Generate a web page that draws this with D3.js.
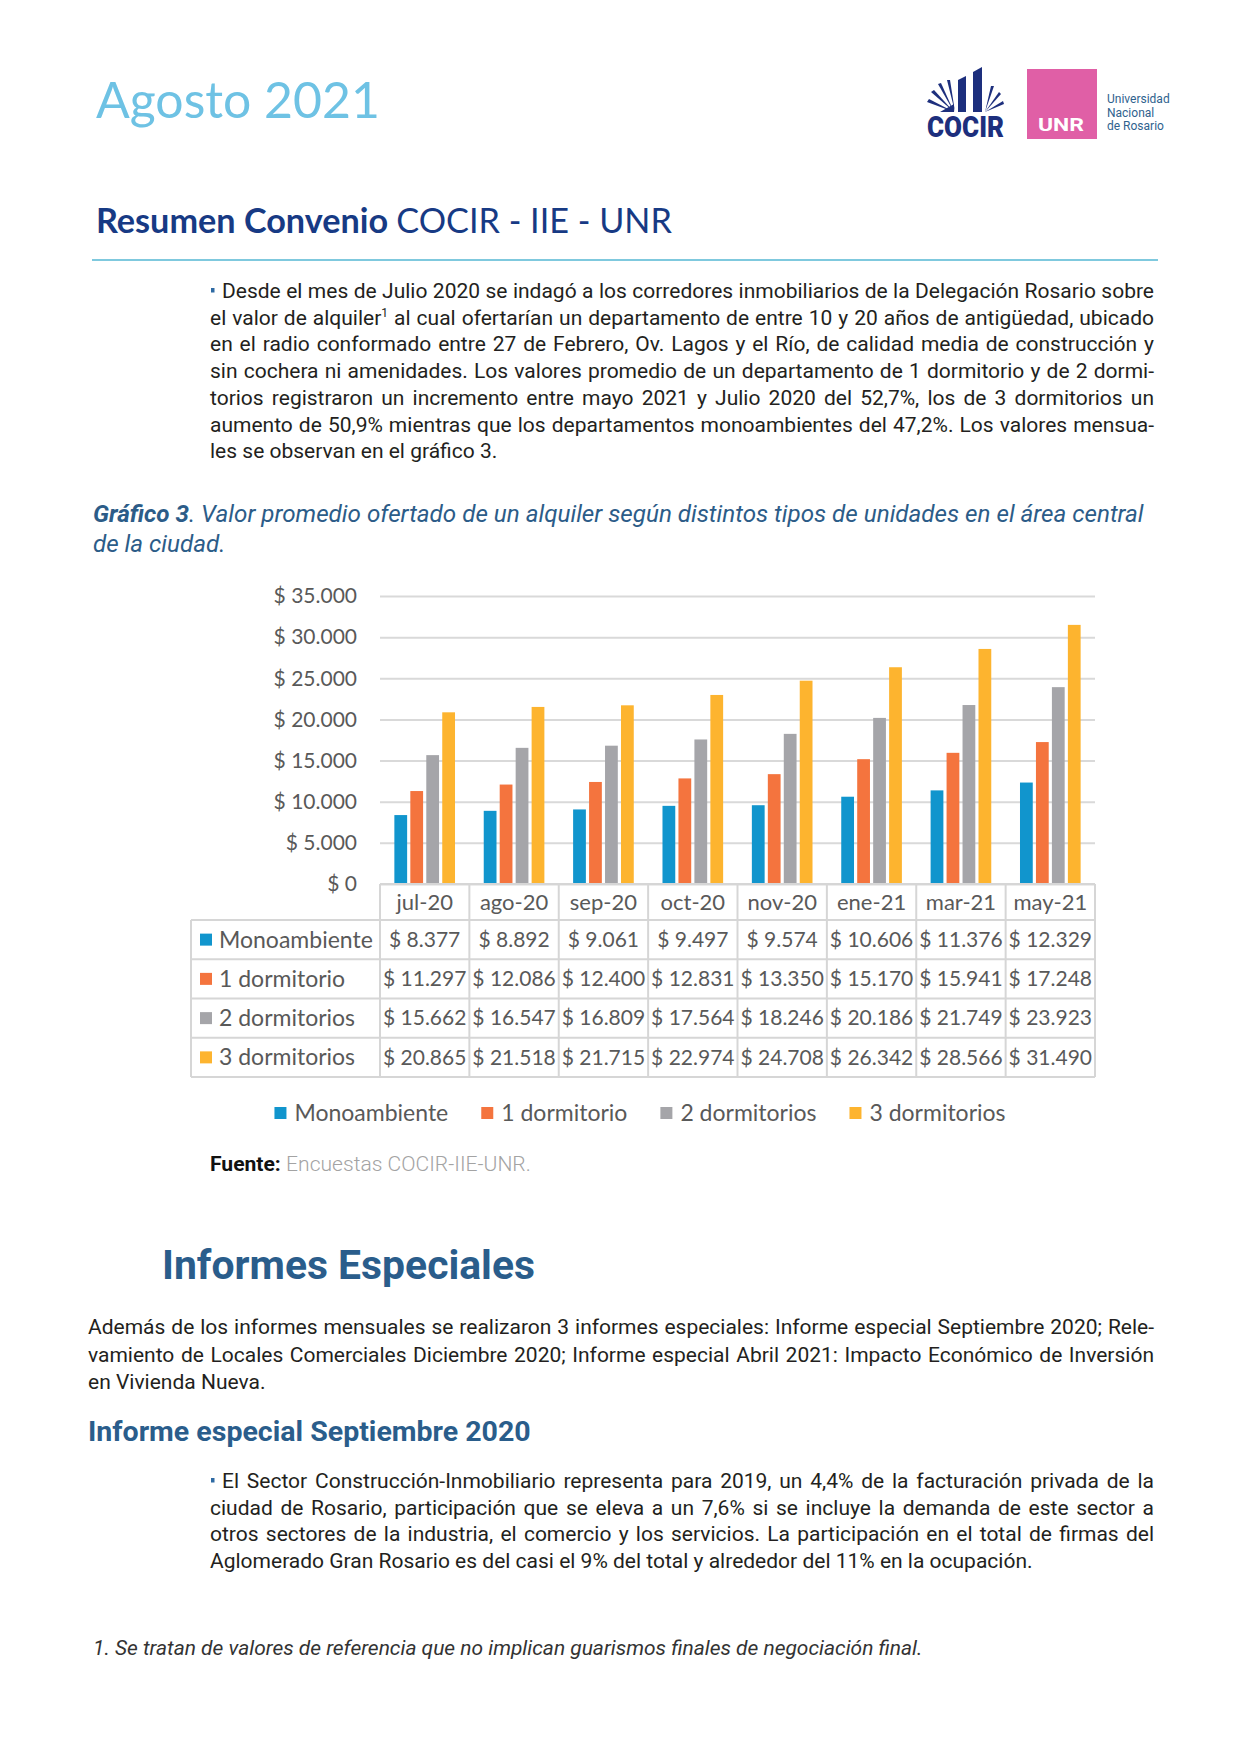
<!DOCTYPE html>
<html>
<head>
<meta charset="utf-8">
<script src="https://cdn.jsdelivr.net/npm/d3@7"></script>
<style>
  html, body { margin: 0; padding: 0; background: #fff; }
  svg { display: block; }
</style>
</head>
<body>
<svg id="page" width="1241" height="1754"></svg>
<script>
// chart data
const categories = ['jul-20', 'ago-20', 'sep-20', 'oct-20', 'nov-20', 'ene-21', 'mar-21', 'may-21'];
const seriesNames = ['Monoambiente', '1 dormitorio', '2 dormitorios', '3 dormitorios'];
const monoambiente = [8377, 8892, 9061, 9497, 9574, 10606, 11376, 12329];
const unDormitorio = [11297, 12086, 12400, 12831, 13350, 15170, 15941, 17248];
const dosDormitorios = [15662, 16547, 16809, 17564, 18246, 20186, 21749, 23923];
const tresDormitorios = [20865, 21518, 21715, 22974, 24708, 26342, 28566, 31490];
const yTicks = [0, 5000, 10000, 15000, 20000, 25000, 30000, 35000];

const seriesValues = [monoambiente, unDormitorio, dosDormitorios, tresDormitorios];
const colors = ['#1195cd', '#f4743e', '#a5a5a9', '#fdb42f'];

// page texts
const para1 = [
  'Desde el mes de Julio 2020 se indagó a los corredores inmobiliarios de la Delegación Rosario sobre',
  'el valor de alquiler|1| al cual ofertarían un departamento de entre 10 y 20 años de antigüedad, ubicado',
  'en el radio conformado entre 27 de Febrero, Ov. Lagos y el Río, de calidad media de construcción y',
  'sin cochera ni amenidades. Los valores promedio de un departamento de 1 dormitorio y de 2 dormi-',
  'torios registraron un incremento entre mayo 2021 y Julio 2020 del 52,7%, los de 3 dormitorios un',
  'aumento de 50,9% mientras que los departamentos monoambientes del 47,2%. Los valores mensua-',
  'les se observan en el gráfico 3.'
];
const para2 = [
  'Además de los informes mensuales se realizaron 3 informes especiales: Informe especial Septiembre 2020; Rele-',
  'vamiento de Locales Comerciales Diciembre 2020; Informe especial Abril 2021: Impacto Económico de Inversión',
  'en Vivienda Nueva.'
];
const para3 = [
  'El Sector Construcción-Inmobiliario representa para 2019, un 4,4% de la facturación privada de la',
  'ciudad de Rosario, participación que se eleva a un 7,6% si se incluye la demanda de este sector a',
  'otros sectores de la industria, el comercio y los servicios. La participación en el total de firmas del',
  'Aglomerado Gran Rosario es del casi el 9% del total y alrededor del 11% en la ocupación.'
];

const svg = d3.select('#page');
const body = 'Roboto, "Noto Sans", sans-serif';
const calib = 'Lato, "Open Sans", sans-serif';

// justified lines: every line but the last is stretched to the width
function writeLines(lines, o) {
  const g = svg.append('g')
    .attr('font-family', o.font || body)
    .attr('font-size', o.size)
    .attr('font-style', o.style || 'normal')
    .attr('fill', o.color || '#231f20');
  lines.forEach((line, i) => {
    const t = g.append('text').attr('x', o.x).attr('y', o.y + i * o.lh);
    const parts = line.split('|');
    parts.forEach((p, k) => {
      if (k % 2 === 1) {
        t.append('tspan').attr('dy', -8).attr('font-size', 12).text(p);
      } else {
        const ts = t.append('tspan').text(p);
        if (k > 0) ts.attr('dy', 8);
      }
    });
    if (i < lines.length - 1 || o.justifyAll) {
      const natural = t.node().getComputedTextLength();
      const spaces = (line.match(/ /g) || []).length;
      if (spaces > 0) t.attr('word-spacing', (o.width - natural) / spaces);
    }
  });
  return g;
}

// scale a text's font size so it spans the given width
function fitWidth(t, width) {
  const size = +t.attr('font-size');
  const w = t.node().getComputedTextLength();
  t.attr('font-size', size * width / w);
  return t;
}

function bullet(x, y) {
  svg.append('rect').attr('x', x).attr('y', y).attr('width', 3.5).attr('height', 4.5).attr('fill', '#2e6aa3');
}

// ---------- header ----------
fitWidth(svg.append('text')
  .attr('x', 96).attr('y', 118)
  .attr('font-family', calib).attr('font-size', 50)
  .attr('fill', '#6ec2e4')
  .text('Agosto 2021'), 284);

// COCIR logo
const navy = '#1d2f7d';
const logo = svg.append('g').attr('fill', navy);
logo.append('path').attr('d', 'M958,80 L966,76 L966,112 L958,112 Z');
logo.append('path').attr('d', 'M973,72 L982,67 L982,112 L973,112 Z');
logo.append('path').attr('d', 'M954,112 L927,102 L929,99 Z');
logo.append('path').attr('d', 'M954,112 L931,92 L934,90 Z');
logo.append('path').attr('d', 'M954,112 L938,84 L941,83 Z');
logo.append('path').attr('d', 'M955,112 L947,80 L950,80 Z');
logo.append('path').attr('d', 'M940,112 L954,104 L954,112 Z');
logo.append('path').attr('d', 'M985,112 L1004,104 L1003,101 Z');
logo.append('path').attr('d', 'M985,112 L1001,94 L999,92 Z');
logo.append('path').attr('d', 'M985,112 L994,86 L991,86 Z');
logo.append('text')
  .attr('x', 927).attr('y', 137)
  .attr('font-family', 'Roboto, sans-serif').attr('font-weight', 900)
  .attr('font-size', 29).attr('textLength', 77).attr('lengthAdjust', 'spacingAndGlyphs')
  .text('COCIR');

svg.append('rect').attr('x', 1027).attr('y', 69).attr('width', 70).attr('height', 70).attr('fill', '#e05fa6');
svg.append('text')
  .attr('x', 1038).attr('y', 131)
  .attr('font-family', 'Roboto, sans-serif').attr('font-weight', 700)
  .attr('font-size', 19).attr('fill', '#fff')
  .attr('textLength', 46).attr('lengthAdjust', 'spacingAndGlyphs')
  .text('UNR');
['Universidad', 'Nacional', 'de Rosario'].forEach((s, i) => {
  svg.append('text')
    .attr('x', 1107).attr('y', 103 + i * 13.5)
    .attr('font-family', 'Roboto, sans-serif').attr('font-size', 12)
    .attr('fill', '#2f628e')
    .text(s);
});

// section heading
const h1 = svg.append('text')
  .attr('x', 96).attr('y', 233)
  .attr('font-family', calib).attr('font-size', 34).attr('fill', '#173a84');
h1.append('tspan').attr('font-weight', 700).text('Resumen Convenio ');
h1.append('tspan').text('COCIR - IIE - UNR');
fitWidth(h1, 576);

svg.append('line')
  .attr('x1', 92).attr('x2', 1158).attr('y1', 260).attr('y2', 260)
  .attr('stroke', '#7fc9de').attr('stroke-width', 2);

bullet(211, 288);
writeLines(para1.slice(0, 1), { x: 222, y: 298, lh: 26.7, width: 1154 - 222, size: 21, justifyAll: true });
writeLines(para1.slice(1), { x: 210, y: 298 + 26.7, lh: 26.7, width: 1154 - 210, size: 21 });

// ---------- chart title ----------
const title = svg.append('g')
  .attr('font-family', body)
  .attr('font-style', 'italic').attr('fill', '#2c5c88');
const t1 = title.append('text').attr('x', 93).attr('y', 522).attr('font-size', 22);
t1.append('tspan').attr('font-weight', 700).text('Gráfico 3');
t1.append('tspan').text('. Valor promedio ofertado de un alquiler según distintos tipos de unidades en el área central');
fitWidth(t1, 1144 - 93);
title.append('text').attr('x', 93).attr('y', 552).attr('font-size', t1.attr('font-size')).text('de la ciudad.');

// ---------- chart ----------
const plotLeft = 380, plotRight = 1095, plotTop = 596, plotBottom = 884;
const x = d3.scaleBand().domain(categories).range([plotLeft, plotRight]);
const xs = d3.scaleBand().domain(seriesNames).range([0, x.bandwidth()])
  .paddingInner(0.2).paddingOuter(0.9);
const y = d3.scaleLinear().domain([0, 35000]).range([plotBottom, plotTop]);
const fmt = v => '$ ' + d3.format(',')(v).replace(/,/g, '.');

const chart = svg.append('g');
chart.append('g')
  .attr('transform', `translate(${plotLeft},0)`)
  .call(d3.axisLeft(y).tickValues(yTicks).tickSize(-(plotRight - plotLeft)).tickFormat(''))
  .call(g => g.select('.domain').remove())
  .call(g => g.selectAll('.tick line').attr('stroke', '#d9d9d9').attr('stroke-width', 2));

chart.append('g')
  .attr('transform', `translate(${plotLeft - 23},0)`)
  .call(d3.axisLeft(y).tickValues(yTicks).tickSize(0).tickPadding(0).tickFormat(fmt))
  .call(g => g.select('.domain').remove())
  .call(g => g.selectAll('text')
    .attr('font-family', calib).attr('font-size', 21).attr('fill', '#595959'));

const rows = categories.map((c, i) => ({ c, vals: seriesValues.map(s => s[i]) }));
chart.append('g').selectAll('g')
  .data(rows).join('g')
  .attr('transform', d => `translate(${x(d.c)},0)`)
  .selectAll('rect')
  .data(d => d.vals.map((v, k) => ({ k, v })))
  .join('rect')
  .attr('x', d => xs(seriesNames[d.k]))
  .attr('width', xs.bandwidth())
  .attr('y', d => y(d.v))
  .attr('height', d => plotBottom - y(d.v))
  .attr('fill', d => colors[d.k]);

// data table
const tableLeft = 191, headBottom = 920, tableBottom = 1077;
const ry = d3.scaleBand().domain(seriesNames).range([headBottom, tableBottom]);
const border = '#d6d6d6';
const tbl = chart.append('g').attr('font-family', calib).attr('font-size', 21).attr('fill', '#595959');

tbl.append('line').attr('x1', plotLeft).attr('x2', plotRight).attr('y1', plotBottom).attr('y2', plotBottom)
  .attr('stroke', border).attr('stroke-width', 2);
[headBottom, ...seriesNames.map(s => ry(s) + ry.bandwidth())].forEach(yy => {
  tbl.append('line').attr('x1', tableLeft).attr('x2', plotRight).attr('y1', yy).attr('y2', yy)
    .attr('stroke', border).attr('stroke-width', 2);
});
tbl.append('line').attr('x1', tableLeft).attr('x2', tableLeft).attr('y1', headBottom).attr('y2', tableBottom)
  .attr('stroke', border).attr('stroke-width', 2);
[...categories.map(c => x(c)), plotRight].forEach(xx => {
  tbl.append('line').attr('x1', xx).attr('x2', xx).attr('y1', plotBottom).attr('y2', tableBottom)
    .attr('stroke', border).attr('stroke-width', 2);
});

tbl.selectAll('.head').data(categories).join('text')
  .attr('class', 'head')
  .attr('x', d => x(d) + x.bandwidth() / 2)
  .attr('y', (plotBottom + headBottom) / 2)
  .attr('dy', '0.35em').attr('text-anchor', 'middle')
  .attr('font-size', 22)
  .text(d => d);

seriesNames.forEach((s, k) => {
  const cy = ry(s) + ry.bandwidth() / 2;
  tbl.append('rect').attr('x', 200).attr('y', cy - 6).attr('width', 12).attr('height', 12).attr('fill', colors[k]);
  tbl.append('text').attr('x', 219).attr('y', cy).attr('dy', '0.35em').attr('font-size', 23).text(s);
  tbl.selectAll('.v' + k).data(seriesValues[k]).join('text')
    .attr('class', 'v' + k)
    .attr('x', (d, i) => x(categories[i]) + x.bandwidth() / 2)
    .attr('y', cy).attr('dy', '0.35em').attr('text-anchor', 'middle')
    .text(d => fmt(d));
});

// legend
const legend = chart.append('g').attr('font-family', calib).attr('font-size', 23).attr('fill', '#595959');
const legendY = 1113;
const items = seriesNames.map((s, k) => {
  const g = legend.append('g');
  g.append('rect').attr('x', 0).attr('y', legendY - 6).attr('width', 12).attr('height', 12).attr('fill', colors[k]);
  const t = g.append('text').attr('x', 20).attr('y', legendY).attr('dy', '0.35em').text(s);
  return { g, w: 20 + t.node().getComputedTextLength() };
});
const gap = 33;
const total = d3.sum(items, d => d.w) + gap * (items.length - 1);
let lx = 640 - total / 2;
items.forEach(it => { it.g.attr('transform', `translate(${lx},0)`); lx += it.w + gap; });

// source
const src = svg.append('text').attr('x', 210).attr('y', 1171)
  .attr('font-family', body).attr('font-size', 20);
src.append('tspan').attr('font-weight', 700).attr('fill', '#111').text('Fuente: ');
src.append('tspan').attr('font-weight', 300).attr('fill', '#a3a3a3').text('Encuestas COCIR-IIE-UNR.');
fitWidth(src, 321);

// ---------- Informes Especiales ----------
fitWidth(svg.append('text').attr('x', 162).attr('y', 1279)
  .attr('font-family', body).attr('font-weight', 700).attr('font-size', 38)
  .attr('fill', '#2a5d8b').text('Informes Especiales'), 373);

writeLines(para2, { x: 88, y: 1334, lh: 27.5, width: 1154 - 88, size: 21 });

fitWidth(svg.append('text').attr('x', 88).attr('y', 1441)
  .attr('font-family', body).attr('font-weight', 700).attr('font-size', 26)
  .attr('fill', '#2a5d8b').text('Informe especial Septiembre 2020'), 443);

bullet(211, 1478);
writeLines(para3.slice(0, 1), { x: 222, y: 1488, lh: 26.6, width: 1154 - 222, size: 21, justifyAll: true });
writeLines(para3.slice(1), { x: 210, y: 1488 + 26.6, lh: 26.6, width: 1154 - 210, size: 21 });

fitWidth(svg.append('text').attr('x', 93).attr('y', 1655)
  .attr('font-family', body).attr('font-style', 'italic').attr('font-size', 20)
  .attr('fill', '#333').text('1. Se tratan de valores de referencia que no implican guarismos finales de negociación final.'), 830);
</script>
</body>
</html>
